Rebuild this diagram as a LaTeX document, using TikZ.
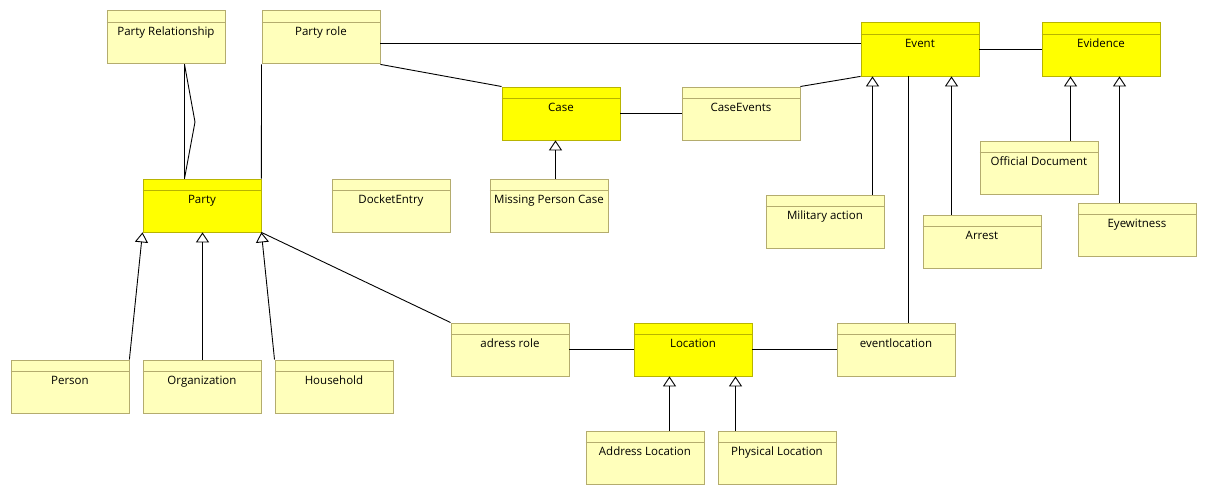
\documentclass[tikz,border=0pt]{standalone}
\usepackage{fontspec}
\setmainfont{Open Sans}
\usetikzlibrary{arrows.meta,calc}
\definecolor{lyfill}{RGB}{255,255,187}
\definecolor{lyline}{RGB}{180,172,110}
\definecolor{yfill}{RGB}{255,255,0}
\definecolor{yline}{RGB}{184,180,0}
\tikzset{
  lbox/.style={draw=lyline, fill=lyfill, line width=0.9pt, minimum width=118pt, minimum height=53pt, inner sep=0pt, anchor=north west},
  ybox/.style={draw=yline, fill=yfill, line width=0.9pt, minimum width=118pt, minimum height=53pt, inner sep=0pt, anchor=north west},
  lboxline/.style={draw=lyline, line width=0.9pt},
  yboxline/.style={draw=yline, line width=0.9pt},
  utext/.style={font=\fontsize{11.5}{13}\selectfont, text=black, inner sep=0pt, anchor=base},
  assoc/.style={draw=black, line width=0.9pt},
  gen/.style={draw=black, line width=0.9pt, -{Triangle[open, length=10pt, width=13pt, fill=white]}},
}
\newcommand\ubox[5]{%
  \node[#4] (#1) at (#2+0.5,#3+0.5) {};
  \draw[#4line] ([yshift=-12pt]#1.north west) -- ([yshift=-12pt]#1.north east);
  \node[utext] (#1-t) at ([yshift=-25pt]#1.north) {#5};
}
\begin{document}
\begin{tikzpicture}[x=1pt,y=-1pt]
\useasboundingbox (0,0) rectangle (1207,495);
% connectors first (boxes drawn on top)
\coordinate (bend) at (195,122);
% boxes
\ubox{prel}{106}{10}{lbox}{Party Relationship}
\ubox{prole}{261}{10}{lbox}{Party role}
\ubox{event}{860}{22}{ybox}{Event}
\ubox{evidence}{1041}{22}{ybox}{Evidence}
\ubox{case}{501}{86}{ybox}{Case}
\ubox{caseev}{681}{86}{lbox}{CaseEvents}
\ubox{party}{142}{178}{ybox}{Party}
\ubox{docket}{331}{178}{lbox}{DocketEntry}
\ubox{mpc}{489}{178}{lbox}{Missing Person Case}
\ubox{offdoc}{979}{140}{lbox}{Official Document}
\ubox{milit}{765}{194}{lbox}{Military action}
\ubox{eyew}{1077}{202}{lbox}{Eyewitness}
\ubox{arrest}{922}{214}{lbox}{Arrest}
\ubox{adrole}{450}{322}{lbox}{adress role}
\ubox{loc}{633}{322}{ybox}{Location}
\ubox{evloc}{836}{322}{lbox}{eventlocation}
\ubox{person}{10}{359}{lbox}{Person}
\ubox{org}{142}{359}{lbox}{Organization}
\ubox{house}{274}{359}{lbox}{Household}
\ubox{addrloc}{585}{430}{lbox}{Address Location}
\ubox{physloc}{717}{430}{lbox}{Physical Location}
% associations
\draw[assoc] ([xshift=78pt]prel.south west) -- ([xshift=42pt]party.north west);
\draw[assoc] ([xshift=78pt]prel.south west) -- (bend) -- ([xshift=42pt]party.north west);
\draw[assoc] (prole.south west) -- (party.north east);
\draw[assoc] ([yshift=-33pt]prole.north east) -- ([yshift=-33pt]prole.north east -| event.west);
\draw[assoc] (prole.south east) -- (case.north west);
\draw[assoc] (case.east) -- (caseev.west);
\draw[assoc] (caseev.north east) -- (event.south west);
\draw[assoc] (event.east) -- (evidence.west);
\draw[assoc] ([xshift=48pt]event.south west) -- ([xshift=72pt]evloc.north west);
\draw[assoc] (party.south east) -- (adrole.north west);
\draw[assoc] (adrole.east) -- (loc.west);
\draw[assoc] (loc.east) -- (evloc.west);
% generalizations
\draw[gen] ([xshift=66pt]mpc.north west) coordinate (g1) -- (g1 |- case.south);
\draw[gen] ([xshift=107pt]milit.north west) coordinate (g2) -- (g2 |- event.south);
\draw[gen] ([xshift=29pt]arrest.north west) coordinate (g3) -- (g3 |- event.south);
\draw[gen] ([xshift=91pt]offdoc.north west) coordinate (g4) -- (g4 |- evidence.south);
\draw[gen] ([xshift=42pt]eyew.north west) coordinate (g5) -- (g5 |- evidence.south);
\draw[gen] (person.north east) -- (party.south west);
\draw[gen] ([xshift=60pt]org.north west) coordinate (g6) -- (g6 |- party.south);
\draw[gen] (house.north west) -- (party.south east);
\draw[gen] ([xshift=84pt]addrloc.north west) coordinate (g7) -- (g7 |- loc.south);
\draw[gen] ([xshift=18pt]physloc.north west) coordinate (g8) -- (g8 |- loc.south);
\end{tikzpicture}
\end{document}
